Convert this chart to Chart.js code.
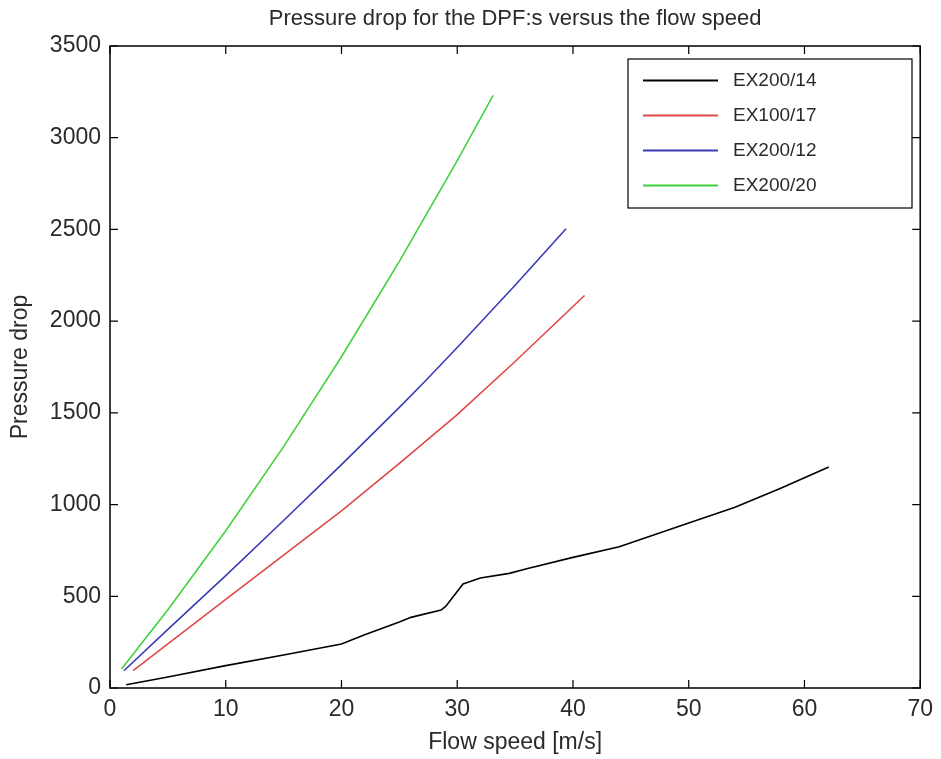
<!DOCTYPE html>
<html>
<head>
<meta charset="utf-8">
<script src="https://cdn.jsdelivr.net/npm/chart.js@4.4.1/dist/chart.umd.min.js"></script>
<style>
  html, body { margin: 0; padding: 0; background: #fff; }
  #wrap { width: 941px; height: 759px; }
</style>
</head>
<body>
<div id="wrap"><canvas id="dpf"></canvas></div>
<script>
// ---- data ----
const seriesNames = ['EX200/14', 'EX100/17', 'EX200/12', 'EX200/20'];
const seriesColors = ['#000000', '#e04848', '#3b3bb8', '#3fd23f'];

const ex20014X = [1.4, 5, 10, 15, 20, 22, 25, 26, 28.6, 29, 30.5, 32, 34.5, 36, 40, 44, 50, 54, 58, 62.1];
const ex20014Y = [18, 60, 122, 180, 240, 290, 360, 385, 425, 445, 567, 600, 625, 650, 712, 770, 900, 985, 1090, 1205];

const ex10017X = [2, 5, 10, 15, 20, 25, 30, 35, 41];
const ex10017Y = [95, 240, 483, 725, 965, 1225, 1490, 1780, 2140];

const ex20012X = [1.2, 5, 10, 15, 20, 25, 27.2, 30, 35, 39.4];
const ex20012Y = [94, 320, 613, 913, 1218, 1530, 1671, 1856, 2196, 2504];

const ex20020X = [1, 5, 10, 15, 20, 25, 30, 33.1];
const ex20020Y = [104, 427, 857, 1316, 1806, 2326, 2875, 3231];

const xTicks = [0, 10, 20, 30, 40, 50, 60, 70];
const yTicks = [0, 500, 1000, 1500, 2000, 2500, 3000, 3500];

const titleText = 'Pressure drop for the DPF:s versus the flow speed';
const xTitle = 'Flow speed [m/s]';
const yTitle = 'Pressure drop';

// ---- helpers ----
function toPoints(xs, ys) {
  return xs.map((x, i) => ({ x, y: ys[i] }));
}

const allX = [ex20014X, ex10017X, ex20012X, ex20020X];
const allY = [ex20014Y, ex10017Y, ex20012Y, ex20020Y];

const FONT = "'Liberation Sans', Arial, sans-serif";
const TEXT = '#2a2a2a';

// MATLAB-style frame: box, inward ticks, title, axis titles, legend
const matlabFrame = {
  id: 'matlabFrame',
  afterDraw(chart) {
    const { ctx, chartArea: a, scales } = chart;
    ctx.save();
    ctx.strokeStyle = '#000';
    ctx.lineWidth = 1.5;
    ctx.strokeRect(a.left, a.top, a.right - a.left, a.bottom - a.top);

    const tl = 8;
    ctx.lineWidth = 1.2;
    ctx.beginPath();
    xTicks.forEach(v => {
      const px = scales.x.getPixelForValue(v);
      ctx.moveTo(px, a.bottom); ctx.lineTo(px, a.bottom - tl);
      ctx.moveTo(px, a.top); ctx.lineTo(px, a.top + tl);
    });
    yTicks.forEach(v => {
      const py = scales.y.getPixelForValue(v);
      ctx.moveTo(a.left, py); ctx.lineTo(a.left + tl, py);
      ctx.moveTo(a.right, py); ctx.lineTo(a.right - tl, py);
    });
    ctx.stroke();

    // title
    ctx.fillStyle = TEXT;
    ctx.textAlign = 'center';
    ctx.textBaseline = 'middle';
    ctx.font = '22px ' + FONT;
    ctx.fillText(titleText, (a.left + a.right) / 2, 19);

    // axis titles
    ctx.font = '23px ' + FONT;
    ctx.fillText(xTitle, (a.left + a.right) / 2, 743);
    ctx.save();
    ctx.translate(21, (a.top + a.bottom) / 2);
    ctx.rotate(-Math.PI / 2);
    ctx.fillText(yTitle, 0, 0);
    ctx.restore();

    // legend
    const lx = 628, ly = 59, lw = 284, lh = 149;
    ctx.fillStyle = '#fff';
    ctx.fillRect(lx, ly, lw, lh);
    ctx.strokeStyle = '#000';
    ctx.lineWidth = 1.2;
    ctx.strokeRect(lx, ly, lw, lh);
    ctx.font = '19px ' + FONT;
    ctx.textAlign = 'left';
    chart.data.datasets.forEach((ds, i) => {
      const y = 80.5 + i * 35;
      ctx.strokeStyle = ds.borderColor;
      ctx.lineWidth = 2;
      ctx.beginPath();
      ctx.moveTo(643, y); ctx.lineTo(718, y);
      ctx.stroke();
      ctx.fillStyle = TEXT;
      ctx.fillText(ds.label, 733, y);
    });
    ctx.restore();
  }
};

new Chart(document.getElementById('dpf'), {
  type: 'line',
  data: {
    datasets: seriesNames.map((name, i) => ({
      label: name,
      data: toPoints(allX[i], allY[i]),
      borderColor: seriesColors[i],
      backgroundColor: seriesColors[i],
      borderWidth: 1.6,
      pointRadius: 0,
      tension: 0,
      fill: false
    }))
  },
  options: {
    responsive: true,
    maintainAspectRatio: false,
    animation: false,
    layout: { padding: { top: 46, right: 19, left: 0, bottom: 0 } },
    plugins: {
      legend: { display: false },
      title: { display: false },
      tooltip: { enabled: false }
    },
    scales: {
      x: {
        type: 'linear',
        min: 0,
        max: 70,
        afterBuildTicks: s => { s.ticks = xTicks.map(v => ({ value: v })); },
        afterFit: s => { s.height = 71; },
        grid: { display: false, drawTicks: false },
        border: { display: false },
        ticks: { color: TEXT, padding: 8, font: { family: FONT, size: 23 }, callback: v => String(v) }
      },
      y: {
        type: 'linear',
        min: 0,
        max: 3500,
        afterBuildTicks: s => { s.ticks = yTicks.map(v => ({ value: v })); },
        afterFit: s => { s.width = 110; },
        grid: { display: false, drawTicks: false },
        border: { display: false },
        ticks: { color: TEXT, padding: 9, font: { family: FONT, size: 23 }, callback: v => String(v) }
      }
    }
  },
  plugins: [matlabFrame]
});
</script>
</body>
</html>
